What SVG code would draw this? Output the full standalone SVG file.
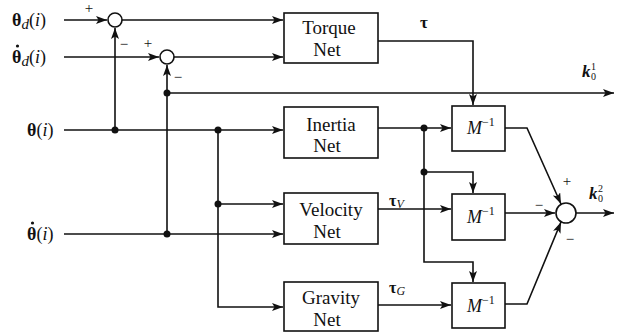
<svg xmlns="http://www.w3.org/2000/svg" width="621" height="334" viewBox="0 0 621 334">
<style>
.ln{fill:none;stroke:#111;stroke-width:1.6}
.bx{fill:#fff;stroke:#111;stroke-width:1.6}
.sum{fill:#fff;stroke:#111;stroke-width:1.6}
.bt{font-size:19px;text-anchor:middle}
.in{font-size:18px}
.sg{font-size:15px;text-anchor:middle}
</style>
<defs>
<marker id="ar" markerUnits="userSpaceOnUse" markerWidth="12" markerHeight="10" refX="11" refY="4" orient="auto">
<path d="M0,0 L11,4 L0,8 L2.5,4 Z" fill="#111"/>
</marker>
</defs>
<rect width="621" height="334" fill="#fff"/>
<g id="connectors">
<path class="ln" d="M64,20 H107" marker-end="url(#ar)"/>
<path class="ln" d="M64,57 H159" marker-end="url(#ar)"/>
<path class="ln" d="M122,20 H283" marker-end="url(#ar)"/>
<path class="ln" d="M174,57 H283" marker-end="url(#ar)"/>
<path class="ln" d="M64,130 H283" marker-end="url(#ar)"/>
<path class="ln" d="M64,234 H283" marker-end="url(#ar)"/>
<path class="ln" d="M115,130 V28" marker-end="url(#ar)"/>
<path class="ln" d="M167,234 V65" marker-end="url(#ar)"/>
<path class="ln" d="M167,93 H614" marker-end="url(#ar)"/>
<path class="ln" d="M218,130 V307 H283" marker-end="url(#ar)"/>
<path class="ln" d="M218,204 H283" marker-end="url(#ar)"/>
<path class="ln" d="M378,41 H473 V105" marker-end="url(#ar)"/>
<path class="ln" d="M378,128 H451" marker-end="url(#ar)"/>
<path class="ln" d="M424,128 V262 H473 V282" marker-end="url(#ar)"/>
<path class="ln" d="M424,172 H473 V193" marker-end="url(#ar)"/>
<path class="ln" d="M378,209 H451" marker-end="url(#ar)"/>
<path class="ln" d="M378,305 H451" marker-end="url(#ar)"/>
<path class="ln" d="M505,128 H527 L561,204" marker-end="url(#ar)"/>
<path class="ln" d="M505,213 H555" marker-end="url(#ar)"/>
<path class="ln" d="M505,304 H527 L561,222" marker-end="url(#ar)"/>
<path class="ln" d="M576,213 H614" marker-end="url(#ar)"/>
<g fill="#111">
<circle cx="115" cy="130" r="3.5"/>
<circle cx="167" cy="93" r="3.5"/>
<circle cx="167" cy="234" r="3.5"/>
<circle cx="218" cy="130" r="3.5"/>
<circle cx="218" cy="204" r="3.5"/>
<circle cx="424" cy="128" r="3.5"/>
<circle cx="424" cy="172" r="3.5"/>
</g>
</g>
<g font-family="Liberation Serif, Times New Roman, serif" fill="#111">
<g id="sum1"><circle class="sum" cx="115" cy="20" r="7"/>
<text class="sg" x="89" y="13">+</text><text class="sg" x="124" y="49">−</text></g>
<g id="sum2"><circle class="sum" cx="167" cy="57" r="7"/>
<text class="sg" x="148" y="48">+</text><text class="sg" x="178" y="82">−</text></g>
<g id="sum3"><circle class="sum" cx="566" cy="213" r="10"/>
<text class="sg" x="567" y="186">+</text><text class="sg" x="539" y="210">−</text><text class="sg" x="570" y="244">−</text></g>
<g id="torque"><rect class="bx" x="284" y="13" width="94" height="50"/>
<text class="bt" x="329" y="34">Torque</text><text class="bt" x="327" y="56">Net</text></g>
<g id="inertia"><rect class="bx" x="284" y="107" width="94" height="51"/>
<text class="bt" x="331" y="131">Inertia</text><text class="bt" x="327" y="152">Net</text></g>
<g id="velocity"><rect class="bx" x="284" y="193" width="94" height="51"/>
<text class="bt" x="331" y="216">Velocity</text><text class="bt" x="327" y="238">Net</text></g>
<g id="gravity"><rect class="bx" x="284" y="282" width="94" height="49"/>
<text class="bt" x="331" y="304">Gravity</text><text class="bt" x="327" y="326">Net</text></g>
<g id="minv1"><rect class="bx" x="452" y="106" width="53" height="45"/>
<text x="467" y="134" font-size="18"><tspan font-style="italic">M</tspan><tspan font-size="12" dy="-8">−1</tspan></text></g>
<g id="minv2"><rect class="bx" x="452" y="194" width="53" height="46"/>
<text x="467" y="223" font-size="18"><tspan font-style="italic">M</tspan><tspan font-size="12" dy="-8">−1</tspan></text></g>
<g id="minv3"><rect class="bx" x="452" y="283" width="53" height="45"/>
<text x="467" y="312" font-size="18"><tspan font-style="italic">M</tspan><tspan font-size="12" dy="-8">−1</tspan></text></g>
<g id="labels">
<text class="in" x="12" y="26"><tspan font-weight="bold">θ</tspan><tspan font-style="italic" font-size="15" dy="3">d</tspan><tspan dy="-3">(</tspan><tspan font-style="italic">i</tspan>)</text>
<text class="in" x="12" y="63"><tspan font-weight="bold">θ</tspan><tspan font-style="italic" font-size="15" dy="3">d</tspan><tspan dy="-3">(</tspan><tspan font-style="italic">i</tspan>)</text>
<circle cx="17.5" cy="46" r="1.6"/>
<text class="in" x="27" y="136"><tspan font-weight="bold">θ</tspan>(<tspan font-style="italic">i</tspan>)</text>
<text class="in" x="27" y="240"><tspan font-weight="bold">θ</tspan>(<tspan font-style="italic">i</tspan>)</text>
<circle cx="32.5" cy="223" r="1.6"/>
<text x="420" y="28" font-size="17" font-weight="bold">τ</text>
<text x="389" y="206" font-size="16" font-weight="bold">τ<tspan font-weight="normal" font-style="italic" font-size="12" dy="2">V</tspan></text>
<text x="389" y="293" font-size="16" font-weight="bold">τ<tspan font-weight="normal" font-style="italic" font-size="12" dy="2">G</tspan></text>
<text x="582" y="77" font-size="17" font-weight="bold" font-style="italic">k</text>
<text x="591" y="70" font-size="10">1</text>
<text x="591" y="80" font-size="10">0</text>
<text x="589" y="199" font-size="17" font-weight="bold" font-style="italic">k</text>
<text x="598" y="192" font-size="10">2</text>
<text x="598" y="202" font-size="10">0</text>
</g>
</g>
</svg>
